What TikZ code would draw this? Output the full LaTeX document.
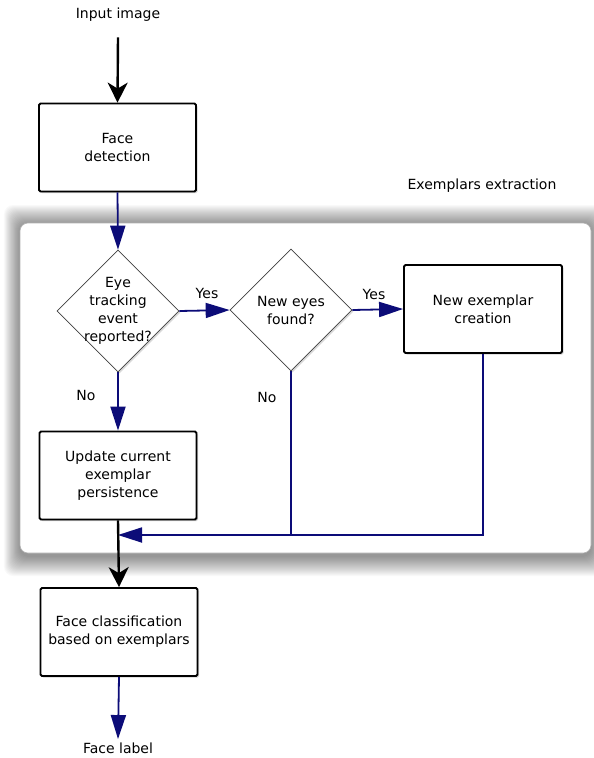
\documentclass[tikz,border=0pt]{standalone}
\usepackage{fontspec}
\setmainfont{DejaVu Sans}
\usetikzlibrary{shapes.geometric,arrows.meta,shadows}
\definecolor{navyb}{RGB}{12,12,120}
\begin{document}
\begin{tikzpicture}[x=1pt,y=-1pt,
  every node/.style={font=\fontsize{14}{18}\selectfont},
  box/.style={draw=black, line width=1.8pt, rounded corners=1.5pt, fill=white,
    minimum width=157pt, minimum height=88pt, align=center, inner sep=2pt,
    drop shadow={shadow xshift=1.5pt, shadow yshift=-1.5pt, opacity=0.35}},
  dia/.style={diamond, draw=black!75, line width=0.7pt, fill=white,
    minimum width=122pt, minimum height=122pt, inner sep=-25pt, align=center,
    drop shadow={shadow xshift=1.5pt, shadow yshift=-1.5pt, opacity=0.3}},
  bluearrow/.style={draw=navyb, line width=1.8pt, -{Triangle[length=24pt,width=15pt]}},
  blueline/.style={draw=navyb, line width=1.8pt},
  blackarrow/.style={draw=black, line width=2.4pt, -{Stealth[length=20pt,width=20pt,inset=6pt]}},
]
\useasboundingbox (0,0) rectangle (594,758);
\fill[white] (0,0) rectangle (594,758);
% container shadow
\foreach \i in {1,...,20}{
  \fill[black, opacity=0.025, rounded corners=9pt] (20-0.8*\i,223-\i+2) rectangle (591+0.8*\i,553+\i+3);
}
\filldraw[fill=white, draw=black!30, line width=0.6pt, rounded corners=8pt] (20,223) rectangle (591,553);

\node (in) at (118,15) {Input image};
\node[box] (fd) at (117.5,147.5) {Face\\detection};
\node[dia] (d1) at (118,311) {Eye\\tracking\\event\\reported?};
\node[dia] (d2) at (291,310) {New eyes\\found?};
\node[box, minimum width=158pt] (ne) at (483,309) {New exemplar\\creation};
\node[box] (up) at (118,475.5) {Update current\\exemplar\\persistence};
\node[box] (fc) at (119,632) {Face classification\\based on exemplars};
\node (fl) at (118,748) {Face label};
\node (ex) at (482,186) {Exemplars extraction};
\node (y1) at (207,293) {Yes};
\node (y2) at (374,294) {Yes};
\node (n1) at (86,395) {No};
\node (n2) at (267,397) {No};
\coordinate (j) at (118,535);

\draw[blackarrow] ([yshift=-12pt]in.south) -- (fd.north);
\draw[bluearrow] (fd.south) -- (d1.north);
\draw[bluearrow] (d1.east) -- (d2.west);
\draw[bluearrow] (d2.east) -- (ne.west);
\draw[bluearrow] (d1.south) -- (up.north);
\draw[blueline] (d2.south) -- (d2.south |- j);
\draw[bluearrow] (ne.south) |- (j);
\draw[blackarrow] (up.south) -- (fc.north);
\draw[bluearrow] (fc.south) -- (fl.north);
\end{tikzpicture}
\end{document}
